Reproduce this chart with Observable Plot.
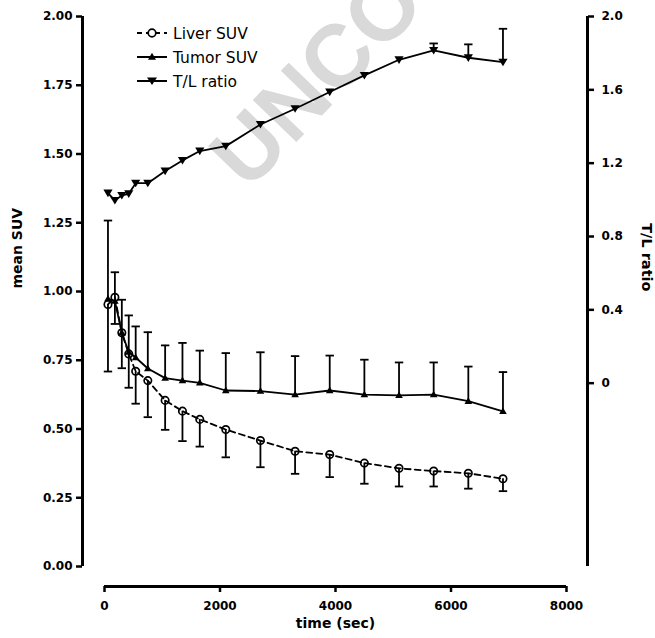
<!DOCTYPE html>
<html><head><meta charset="utf-8">
<script src="https://cdn.jsdelivr.net/npm/d3@7"></script>
<script src="https://cdn.jsdelivr.net/npm/@observablehq/plot@0.6"></script>
<style>html,body{margin:0;padding:0;background:#fff}#chart{width:655px;height:638px}</style>
</head><body><div id="chart"></div><script>
// ---- data ----
const time      = [60, 180, 300, 420, 540, 750, 1050, 1350, 1650, 2100, 2700, 3300, 3900, 4500, 5100, 5700, 6300, 6900];
const liverSUV  = [0.953, 0.979, 0.850, 0.773, 0.710, 0.676, 0.604, 0.565, 0.535, 0.498, 0.458, 0.419, 0.407, 0.376, 0.357, 0.347, 0.339, 0.319];
const liverLow  = [0.709, 0.882, 0.721, 0.650, 0.592, 0.543, 0.497, 0.456, 0.436, 0.397, 0.361, 0.337, 0.325, 0.301, 0.291, 0.291, 0.283, 0.274];
const tumorSUV  = [0.973, 0.965, 0.850, 0.780, 0.760, 0.720, 0.685, 0.676, 0.668, 0.640, 0.638, 0.625, 0.640, 0.625, 0.622, 0.625, 0.601, 0.564];
const tumorHigh = [1.258, 1.070, 0.970, 0.913, 0.873, 0.852, 0.804, 0.813, 0.785, 0.776, 0.779, 0.765, 0.767, 0.752, 0.742, 0.742, 0.727, 0.707];
const tlRatio   = [1.037, 0.997, 1.024, 1.033, 1.091, 1.091, 1.157, 1.215, 1.266, 1.293, 1.411, 1.497, 1.588, 1.679, 1.764, 1.815, 1.775, 1.751];
const tlHigh    = [null, null, null, null, null, null, null, null, null, null, null, null, null, null, null, 1.853, 1.848, 1.933];

const suvTicks  = [0, 0.25, 0.5, 0.75, 1, 1.25, 1.5, 1.75, 2];
const tlTicks   = [0, 0.4, 0.8, 1.2, 1.6, 2.0];
const timeTicks = [0, 2000, 4000, 6000, 8000];
const tlDomain  = [-1, 2];
const suvDomain = [0, 2];
const legendLabels = ["Liver SUV", "Tumor SUV", "T/L ratio"];
const watermarkText = "UNCO";

// map right-axis (T/L) values onto left-axis (SUV) units
const toY = v => (v - tlDomain[0]) / (tlDomain[1] - tlDomain[0]) * (suvDomain[1] - suvDomain[0]) + suvDomain[0];
const fromY = y => Math.round(((y - suvDomain[0]) / (suvDomain[1] - suvDomain[0]) * (tlDomain[1] - tlDomain[0]) + tlDomain[0]) * 10) / 10;

const rows = time.map((t, i) => ({
  t, liver: liverSUV[i], liverLow: liverLow[i], tumor: tumorSUV[i], tumorHigh: tumorHigh[i],
  tl: toY(tlRatio[i]), tlHigh: tlHigh[i] == null ? null : toY(tlHigh[i])
}));
const tlErr = rows.filter(d => d.tlHigh != null);

// ---- symbols ----
const capSym = {draw(c, s) { const r = Math.sqrt(s / Math.PI); c.moveTo(-r, 0); c.lineTo(r, 0); }};
const triUp = {draw(c, s) { const r = Math.sqrt(s / Math.PI); c.moveTo(0, -r * 1.05); c.lineTo(r, r * 0.7); c.lineTo(-r, r * 0.7); c.closePath(); }};
const triDown = {draw(c, s) { const r = Math.sqrt(s / Math.PI); c.moveTo(0, r * 0.9); c.lineTo(r, -r * 0.75); c.lineTo(-r, -r * 0.75); c.closePath(); }};

const FONT = "DejaVu Sans, Verdana, sans-serif";

function watermark() {
  const g = d3.create("svg:g");
  g.append("text")
    .attr("transform", "translate(248,192) rotate(-46)")
    .attr("text-anchor", "start")
    .attr("font-family", "Liberation Sans, Arial, sans-serif")
    .attr("font-size", 88).attr("font-weight", "bold")
    .attr("fill", "#d9d9d9")
    .text(watermarkText);
  return g.node();
}

function legend() {
  const g = d3.create("svg:g").attr("font-family", FONT).attr("text-anchor", "start");
  const ys = [33, 57, 81];
  legendLabels.forEach((lab, i) => {
    const y = ys[i];
    const gi = g.append("g");
    gi.append("line").attr("x1", 137).attr("x2", 167).attr("y1", y).attr("y2", y)
      .attr("stroke", "black").attr("stroke-width", 2)
      .attr("stroke-dasharray", i === 0 ? "5,4" : null);
    if (i === 0) gi.append("circle").attr("cx", 152).attr("cy", y).attr("r", 3.8)
      .attr("fill", "white").attr("stroke", "black").attr("stroke-width", 1.7);
    if (i === 1) gi.append("path").attr("d", `M152,${y - 4.2}L156,${y + 2.8}L148,${y + 2.8}Z`).attr("fill", "black");
    if (i === 2) gi.append("path").attr("d", `M152,${y + 4}L157,${y - 3.4}L147,${y - 3.4}Z`).attr("fill", "black");
    gi.append("text").attr("x", 173).attr("y", y).attr("dy", "0.36em")
      .attr("text-anchor", "start")
      .attr("font-size", 15.5).attr("font-weight", "normal").attr("fill", "black").text(lab);
  });
  return g.node();
}

const chart = Plot.plot({
  width: 655, height: 638,
  marginLeft: 104, marginRight: 89, marginTop: 16, marginBottom: 72,
  style: {fontFamily: FONT, fontSize: "12px", fontWeight: "bold", color: "black", background: "white", overflow: "hidden"},
  x: {domain: [0, 8000]},
  y: {domain: suvDomain},
  marks: [
    watermark,
    // axis lines
    Plot.ruleX([0], {dx: -22, stroke: "black", strokeWidth: 3}),
    Plot.ruleX([8000], {dx: 21, stroke: "black", strokeWidth: 3}),
    Plot.ruleY([0], {dy: 20, stroke: "black", strokeWidth: 3}),
    // error bars
    Plot.ruleX(rows, {x: "t", y1: "liver", y2: "liverLow", stroke: "black", strokeWidth: 1.8}),
    Plot.dot(rows, {x: "t", y: "liverLow", symbol: capSym, r: 4.2, stroke: "black", strokeWidth: 1.8}),
    Plot.ruleX(rows, {x: "t", y1: "tumor", y2: "tumorHigh", stroke: "black", strokeWidth: 1.8}),
    Plot.dot(rows, {x: "t", y: "tumorHigh", symbol: capSym, r: 4.2, stroke: "black", strokeWidth: 1.8}),
    Plot.ruleX(tlErr, {x: "t", y1: "tl", y2: "tlHigh", stroke: "black", strokeWidth: 1.8}),
    Plot.dot(tlErr, {x: "t", y: "tlHigh", symbol: capSym, r: 4.2, stroke: "black", strokeWidth: 1.8}),
    // lines
    Plot.line(rows, {x: "t", y: "liver", stroke: "black", strokeWidth: 1.8, strokeDasharray: "6,4"}),
    Plot.line(rows, {x: "t", y: "tumor", stroke: "black", strokeWidth: 1.8}),
    Plot.line(rows, {x: "t", y: "tl", stroke: "black", strokeWidth: 1.8}),
    // markers
    Plot.dot(rows, {x: "t", y: "liver", r: 3.7, fill: "none", stroke: "black", strokeWidth: 1.7}),
    Plot.dot(rows, {x: "t", y: "tumor", symbol: triUp, r: 3.8, fill: "black", stroke: "none"}),
    Plot.dot(rows, {x: "t", y: "tl", symbol: triDown, r: 4.6, fill: "black", stroke: "none"}),
    // axes
    Plot.axisY({anchor: "left", ticks: suvTicks, tickFormat: d => d.toFixed(2), tickSize: 6, tickPadding: 4, dx: -22, label: null, strokeWidth: 2.5, fontSize: 12}),
    Plot.axisY({anchor: "right", ticks: tlTicks.map(toY), tickFormat: d => { const v = fromY(d); return v === 0 ? "0" : v.toFixed(1); }, tickSize: 6, tickPadding: 8, dx: 21, label: null, strokeWidth: 2.5, fontSize: 12}),
    Plot.axisX({anchor: "bottom", ticks: timeTicks, tickFormat: d => String(d), tickSize: 6, tickPadding: 9, dy: 20, label: null, strokeWidth: 2.5, fontSize: 12}),
    // axis titles
    Plot.text(["mean SUV"], {frameAnchor: "left", rotate: -90, dx: -87, dy: -3, fontSize: 14, fontWeight: "bold", fill: "black"}),
    Plot.text(["T/L ratio"], {frameAnchor: "right", rotate: 90, dx: 80, fontSize: 14.5, fontWeight: "bold", fill: "black"}),
    Plot.text(["time (sec)"], {frameAnchor: "bottom", dy: 61, fontSize: 14, fontWeight: "bold", fill: "black"}),
    legend
  ]
});
document.getElementById("chart").append(chart);
</script></body></html>
